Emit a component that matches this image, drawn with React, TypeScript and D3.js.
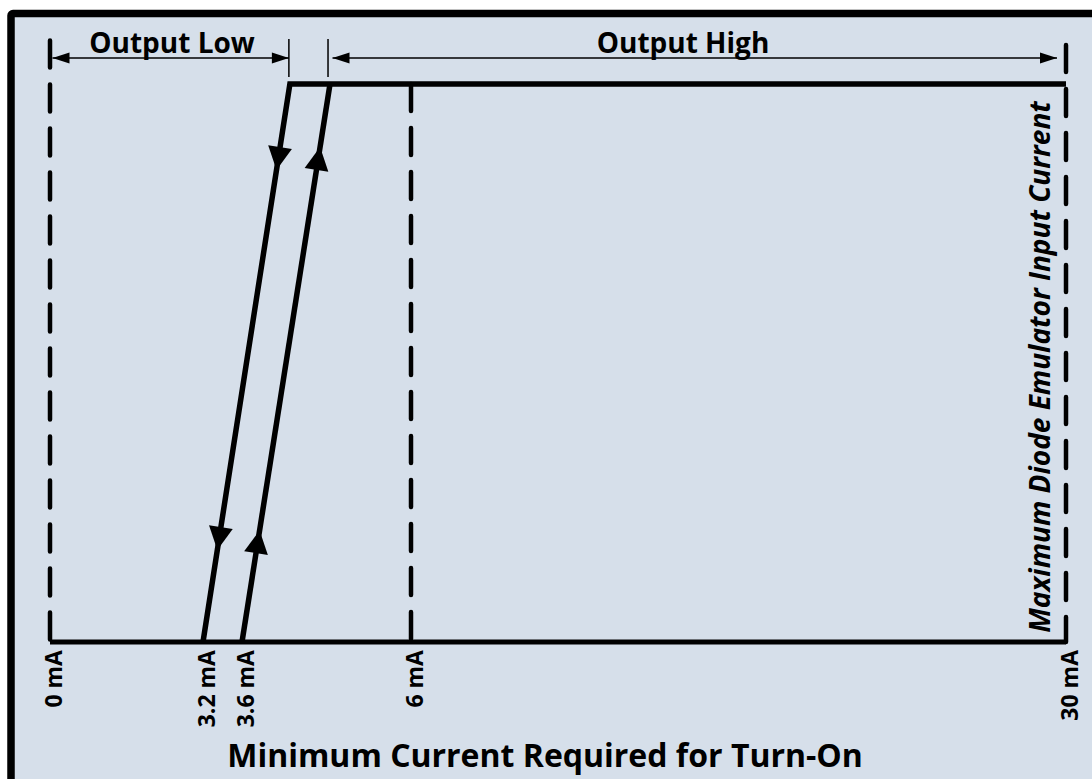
import React from "react";
import * as d3 from "d3";

// ---- data (currents in mA, output state 0 = Low, 1 = High) ----
const tickValues = [0, 3.2, 3.6, 6, 30];
const tickLabels = ["0 mA", "3.2 mA", "3.6 mA", "6 mA", "30 mA"];
const turnOffPath = [
  { i: 30, s: 1 },
  { i: 4.28, s: 1 },
  { i: 3.2, s: 0 },
];
const turnOnPath = [
  { i: 3.6, s: 0 },
  { i: 4.85, s: 1 },
];
const baselinePath = [
  { i: 0, s: 0 },
  { i: 30, s: 0 },
];
const refLines = [
  { i: 0, top: 1.078 },
  { i: 6, top: 1.0 },
  { i: 30, top: 1.07 },
];
const spans = [
  { label: "Output Low", from: 0, to: 4.28 },
  { label: "Output High", from: 4.85, to: 30 },
];
const spanTicks = [4.28, 4.85];
const arrowsOff = [0.154, 0.835];
const arrowsOn = [0.2, 0.887];
const xTitle = "Minimum Current Required for Turn-On";
const sideLabel = "Maximum Diode Emulator Input Current";

const W = 1092;
const H = 779;
const BG = "#d6dfea";
const FONT = "'Open Sans', Lato, sans-serif";

export default function App() {
  const x = d3
    .scaleLinear()
    .domain(tickValues)
    .range([50, 203, 242, 411, 1066]);
  const y = d3.scaleLinear().domain([0, 1]).range([642, 84]);
  const line = d3
    .line<{ i: number; s: number }>()
    .x((d) => x(d.i))
    .y((d) => y(d.s));

  const arrowHead = (
    a: { i: number; s: number },
    b: { i: number; s: number },
    t: number,
    key: string
  ) => {
    const ax = x(a.i), ay = y(a.s), bx = x(b.i), by = y(b.s);
    const px = ax + (bx - ax) * t;
    const py = ay + (by - ay) * t;
    const ang = (Math.atan2(by - ay, bx - ax) * 180) / Math.PI;
    return (
      <path
        key={key}
        d="M0,0 L-23,-12 L-23,12 Z"
        fill="#000"
        transform={`translate(${px},${py}) rotate(${ang})`}
      />
    );
  };

  const spanY = 58;
  const smallHead = (tipX: number, dir: number, key: string) => (
    <path
      key={key}
      d={`M${tipX},${spanY} L${tipX - dir * 17},${spanY - 5.5} L${tipX - dir * 17},${spanY + 5.5} Z`}
      fill="#000"
    />
  );

  return (
    <svg
      width={W}
      height={H}
      style={{ position: "absolute", left: 0, top: 0, display: "block" }}
    >
      <rect x={0} y={0} width={W} height={H} fill="#fff" />
      <rect
        x={11}
        y={13.5}
        width={W + 20}
        height={H + 20}
        rx={2}
        fill={BG}
        stroke="#000"
        strokeWidth={7.5}
      />

      {/* dashed reference lines */}
      {refLines.map((r, k) => (
        <line
          key={"ref" + k}
          x1={x(r.i)}
          x2={x(r.i)}
          y1={y(r.top)}
          y2={y(0)}
          stroke="#000"
          strokeWidth={4.5}
          strokeDasharray="27 17"
          strokeLinecap="round"
        />
      ))}

      {/* baseline */}
      <path d={line(baselinePath) || ""} fill="none" stroke="#000" strokeWidth={5} />

      {/* hysteresis paths */}
      <path
        d={line(turnOffPath) || ""}
        fill="none"
        stroke="#000"
        strokeWidth={5.5}
        strokeLinejoin="miter"
      />
      <path
        d={line(turnOnPath) || ""}
        fill="none"
        stroke="#000"
        strokeWidth={5.5}
      />
      {arrowsOff.map((t, k) => arrowHead(turnOffPath[1], turnOffPath[2], t, "off" + k))}
      {arrowsOn.map((t, k) => arrowHead(turnOnPath[0], turnOnPath[1], t, "on" + k))}

      {/* span ticks */}
      {spanTicks.map((v, k) => (
        <line
          key={"st" + k}
          x1={x(v) + (k === 0 ? -1 : -2)}
          x2={x(v) + (k === 0 ? -1 : -2)}
          y1={39}
          y2={77}
          stroke="#000"
          strokeWidth={1.5}
        />
      ))}

      {/* span arrows */}
      {spans.map((s, k) => {
        const x1 = x(s.from) + 2.5;
        const x2 = k === 0 ? x(s.to) - 1 : x(s.to) - 9;
        return (
          <g key={"span" + k}>
            <line x1={x1} x2={x2} y1={spanY} y2={spanY} stroke="#000" strokeWidth={1.6} />
            {smallHead(x1, -1, "l")}
            {smallHead(x2, 1, "r")}
            <text
              x={k === 0 ? 172 : 683}
              y={53}
              textAnchor="middle"
              fontFamily={FONT}
              fontWeight={700}
              fontSize={28}
              fill="#000"
            >
              {s.label}
            </text>
          </g>
        );
      })}

      {/* tick labels */}
      {tickValues.map((v, k) => (
        <text
          key={"tl" + k}
          transform={`translate(${x(v) + 3},${650}) rotate(-90)`}
          textAnchor="end"
          dominantBaseline="central"
          fontFamily={FONT}
          fontWeight={700}
          fontSize={23}
          fill="#000"
        >
          {tickLabels[k]}
        </text>
      ))}

      {/* side label */}
      <text
        transform={`translate(${1039},${367}) rotate(-90)`}
        textAnchor="middle"
        dominantBaseline="central"
        fontFamily={FONT}
        fontWeight={700}
        fontStyle="italic"
        fontSize={28}
        fill="#000"
      >
        {sideLabel}
      </text>

      {/* x title */}
      <text
        x={545}
        y={767}
        textAnchor="middle"
        fontFamily={FONT}
        fontWeight={700}
        fontSize={32}
        fill="#000"
      >
        {xTitle}
      </text>
    </svg>
  );
}
